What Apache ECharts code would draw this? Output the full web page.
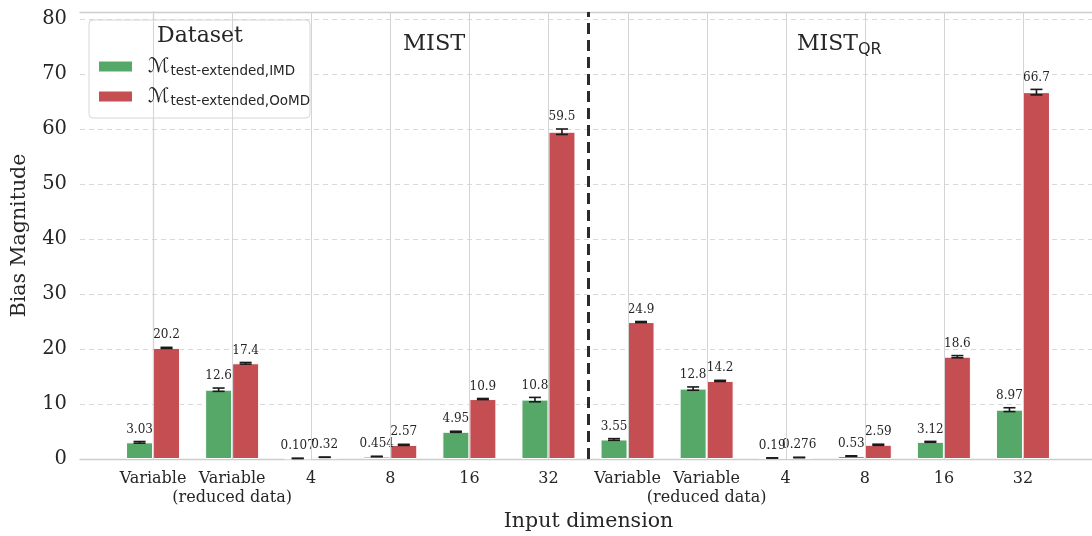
<!DOCTYPE html>
<html>
<head>
<meta charset="utf-8">
<script src="https://cdn.jsdelivr.net/npm/echarts@6/dist/echarts.min.js"></script>
<style>
  html, body { margin: 0; padding: 0; background: #fff; }
  #chart { width: 1092px; height: 536px; }
</style>
</head>
<body>
<div id="chart"></div>
<script>
// data
const categories = ['Variable', 'Variable\n(reduced data)', '4', '8', '16', '32',
                    'Variable', 'Variable\n(reduced data)', '4', '8', '16', '32'];
const imdValues  = [3.03, 12.6, 0.107, 0.454, 4.95, 10.8, 3.55, 12.8, 0.19, 0.53, 3.12, 8.97];
const imdErrors  = [0.15, 0.3, 0.02, 0.04, 0.1, 0.4, 0.15, 0.3, 0.02, 0.05, 0.08, 0.35];
const oomdValues = [20.2, 17.4, 0.32, 2.57, 10.9, 59.5, 24.9, 14.2, 0.276, 2.59, 18.6, 66.7];
const oomdErrors = [0.1, 0.15, 0.02, 0.1, 0.1, 0.5, 0.1, 0.1, 0.02, 0.1, 0.2, 0.5];
const yTicks = [0, 10, 20, 30, 40, 50, 60, 70, 80];
const separatorAt = 5.5;

const SERIF = '"DejaVu Serif", serif';
const SANS = '"DejaVu Sans", sans-serif';
const GREEN = '#55a868';
const RED = '#c44e52';
const BAR_W = 27;
const yMax = 81.27;

const fmt = v => String(Number(v.toPrecision(3)));

// error bar + value label, drawn next to the bar centre
const errorItem = offset => (params, api) => {
  const i = api.value(0), v = api.value(1), e = api.value(2);
  const top = api.coord([i, v + e]);
  const bot = api.coord([i, Math.max(v - e, 0)]);
  const x = top[0] + offset;
  const style = { stroke: '#1a1a1a', lineWidth: 1.6 };
  return {
    type: 'group',
    children: [
      { type: 'line', shape: { x1: x, y1: top[1], x2: x, y2: bot[1] }, style },
      { type: 'line', shape: { x1: x - 6, y1: top[1], x2: x + 6, y2: top[1] }, style },
      { type: 'line', shape: { x1: x - 6, y1: bot[1], x2: x + 6, y2: bot[1] }, style },
      {
        type: 'text', x: x, y: top[1] - 6,
        style: { text: fmt(v), fill: '#262626', font: '12px ' + SERIF, align: 'center', verticalAlign: 'bottom' }
      }
    ]
  };
};

const chart = echarts.init(document.getElementById('chart'));

chart.setOption({
  animation: false,
  backgroundColor: '#fff',
  grid: [
    { left: 80, right: -5, top: 12, bottom: 77, outerBoundsMode: 'none', containLabel: false },
    { left: 113.5, right: 29.5, top: 12, bottom: 77, outerBoundsMode: 'none', containLabel: false }
  ],
  xAxis: [
    {
      type: 'value', gridIndex: 0, min: -0.923, max: 11.93, position: 'bottom',
      axisLine: { show: true, onZero: false, lineStyle: { color: '#cccccc', width: 1.3 } },
      axisTick: { show: false }, axisLabel: { show: false }, splitLine: { show: false },
      name: 'Input dimension', nameLocation: 'middle', nameGap: 52,
      nameTextStyle: { fontFamily: SERIF, fontSize: 20.5, color: '#262626' }
    },
    {
      type: 'value', gridIndex: 0, min: -0.923, max: 11.93, position: 'top',
      axisLine: { show: true, onZero: false, lineStyle: { color: '#cccccc', width: 1.3 } },
      axisTick: { show: false }, axisLabel: { show: false }, splitLine: { show: false }
    },
    {
      type: 'category', gridIndex: 1, data: categories,
      axisLine: { show: false }, axisTick: { show: false }, splitLine: { show: false },
      axisLabel: { fontFamily: SERIF, fontSize: 16, color: '#262626', margin: 10, lineHeight: 19, interval: 0 }
    }
  ],
  yAxis: [
    {
      type: 'value', gridIndex: 0, min: 0, max: yMax, interval: yTicks[1] - yTicks[0],
      axisLine: { show: true, lineStyle: { color: '#cccccc', width: 1.3 } },
      axisTick: { show: false },
      axisLabel: { showMaxLabel: false, fontFamily: SERIF, fontSize: 19.5, color: '#262626', margin: 13 },
      splitLine: { show: true, lineStyle: { color: '#d9d9d9', type: [5, 4], width: 1 } },
      name: 'Bias Magnitude', nameLocation: 'middle', nameGap: 50, nameRotate: 90,
      nameTextStyle: { fontFamily: SERIF, fontSize: 20.5, color: '#262626' }
    },
    {
      type: 'value', gridIndex: 1, min: 0, max: yMax, show: false, splitLine: { show: false }
    }
  ],
  legend: {
    orient: 'vertical', left: 97, top: 55, padding: 0, itemWidth: 35, itemHeight: 12, itemGap: 7,
    icon: 'rect', selectedMode: false, z: 10,
    data: ['IMD', 'OoMD'],
    formatter: name => '{m|ℳ}{s|test-extended,' + name + '}',
    textStyle: {
      padding: [0, 0, 0, 10],
      rich: {
        m: { fontFamily: SANS, fontSize: 20, color: '#262626', lineHeight: 24, verticalAlign: 'middle' },
        s: { fontFamily: SANS, fontSize: 13.5, color: '#262626', lineHeight: 24, padding: [9, 0, 0, 1], verticalAlign: 'middle' }
      }
    }
  },
  graphic: [
    {
      type: 'rect', z: 2, shape: { x: 89, y: 20, width: 221, height: 98, r: 4 },
      style: { fill: 'rgba(255,255,255,0.85)', stroke: '#d6d6d6', lineWidth: 1 }
    },
    {
      type: 'text', z: 6, x: 200, y: 36,
      style: { text: 'Dataset', font: '22px ' + SERIF, fill: '#262626', align: 'center', verticalAlign: 'middle' }
    },
    {
      type: 'text', z: 6, x: 403, y: 44,
      style: { text: 'MIST', font: '22.5px ' + SERIF, fill: '#262626', verticalAlign: 'middle' }
    },
    {
      type: 'text', z: 6, x: 797, y: 44,
      style: {
        text: '{a|MIST}{b|QR}', verticalAlign: 'middle',
        rich: {
          a: { fontFamily: SERIF, fontSize: 22, fill: '#262626', color: '#262626', lineHeight: 28 },
          b: { fontFamily: SANS, fontSize: 16, fill: '#262626', color: '#262626', lineHeight: 28, padding: [12, 0, 0, 0] }
        }
      }
    }
  ],
  series: [
    {
      // vertical grid lines at the category centres
      type: 'line', xAxisIndex: 0, yAxisIndex: 0, data: [], z: 1, silent: true,
      markLine: {
        silent: true, symbol: 'none', label: { show: false },
        lineStyle: { color: '#d4d4d4', type: 'solid', width: 1 },
        data: categories.map((c, i) => ({ xAxis: i }))
      }
    },
    {
      // dataset separator
      type: 'line', xAxisIndex: 0, yAxisIndex: 0, data: [], z: 8, silent: true,
      markLine: {
        silent: true, symbol: 'none', label: { show: false },
        lineStyle: { color: '#2b2b2b', type: [11, 6], width: 3 },
        data: [{ xAxis: separatorAt }]
      }
    },
    {
      name: 'IMD', type: 'bar', xAxisIndex: 2, yAxisIndex: 1, data: imdValues,
      barWidth: BAR_W, barGap: '0%', z: 3,
      itemStyle: { color: GREEN, borderColor: '#ffffff', borderWidth: 1 }
    },
    {
      name: 'OoMD', type: 'bar', xAxisIndex: 2, yAxisIndex: 1, data: oomdValues,
      barWidth: BAR_W, barGap: '0%', z: 3,
      itemStyle: { color: RED, borderColor: '#ffffff', borderWidth: 1 }
    },
    {
      type: 'custom', xAxisIndex: 2, yAxisIndex: 1, z: 4, silent: true,
      renderItem: errorItem(-BAR_W / 2),
      data: imdValues.map((v, i) => [i, v, imdErrors[i]]),
      encode: { x: 0, y: 1 }
    },
    {
      type: 'custom', xAxisIndex: 2, yAxisIndex: 1, z: 4, silent: true,
      renderItem: errorItem(BAR_W / 2),
      data: oomdValues.map((v, i) => [i, v, oomdErrors[i]]),
      encode: { x: 0, y: 1 }
    }
  ]
});
</script>
</body>
</html>
